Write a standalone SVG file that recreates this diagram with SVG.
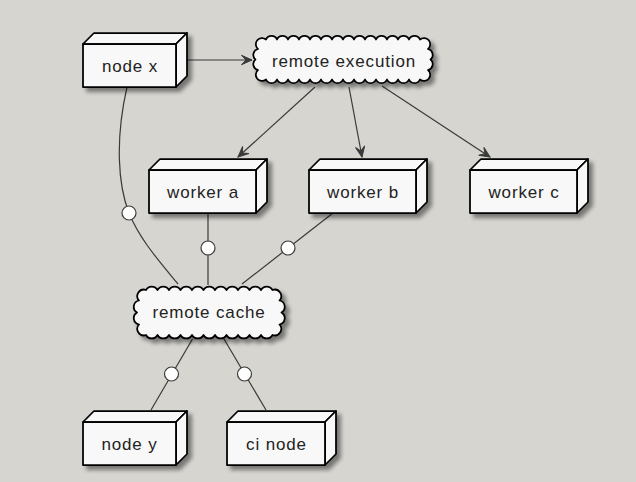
<svg xmlns="http://www.w3.org/2000/svg" width="636" height="482" viewBox="0 0 636 482">
<style>
.face{fill:#F8F8F8;stroke:#000;stroke-width:1.75;stroke-linejoin:round}
.lbl{font-family:"Liberation Sans",Arial,sans-serif;font-size:17px;letter-spacing:0.85px;fill:#222;text-anchor:middle}
.edge{fill:none;stroke:#3a3a3a;stroke-width:1.2}
.port{fill:#fff;stroke:#3a3a3a;stroke-width:1.2}
</style>
<defs>
<filter id="shadow" x="-10%" y="-20%" width="130%" height="150%">
<feGaussianBlur in="SourceAlpha" stdDeviation="2"/>
<feOffset dx="4" dy="4"/>
<feComponentTransfer><feFuncA type="linear" slope="0.45"/></feComponentTransfer>
<feMerge><feMergeNode/><feMergeNode in="SourceGraphic"/></feMerge>
</filter>
<marker id="arrow" markerUnits="userSpaceOnUse" viewBox="-12 -6 13 12" markerWidth="13" markerHeight="12" refX="0" refY="0" orient="auto">
<path d="M0,0 L-10.5,-4.7 L-6,0 L-10.5,4.7 Z" fill="#3a3a3a" stroke="#3a3a3a" stroke-width="1"/>
</marker>
</defs>
<rect width="636" height="482" fill="#D6D5D0"/>

<g id="connectors">
<path class="edge" d="M176,60 L252,60" marker-end="url(#arrow)"/>
<path class="edge" d="M315,87 L238,157" marker-end="url(#arrow)"/>
<path class="edge" d="M349,87 L362,157" marker-end="url(#arrow)"/>
<path class="edge" d="M382,86 L490,157" marker-end="url(#arrow)"/>
<path class="edge" d="M127,87 C115,140 118,185 129,213 C140,240 160,262 178,284"/>
<path class="edge" d="M208,213 L208,285"/>
<path class="edge" d="M333,213 L242,284"/>
<path class="edge" d="M192.5,339 L151,410"/>
<path class="edge" d="M224,339 L266,410"/>
<circle class="port" cx="129" cy="213" r="7"/>
<circle class="port" cx="208" cy="248" r="7"/>
<circle class="port" cx="288" cy="248" r="7"/>
<circle class="port" cx="171.5" cy="374" r="7"/>
<circle class="port" cx="244.5" cy="374" r="7"/>
</g>

<g id="node-x">
<g filter="url(#shadow)">
<path class="face" d="M83,44 L94,33 L187,33 L176,44 Z"/>
<path class="face" d="M176,44 L187,33 L187,76 L176,87 Z"/>
<rect class="face" x="83" y="44" width="93" height="43"/>
</g>
<text class="lbl" x="130" y="72">node x</text>
</g>

<g id="remote-execution">
<path class="face" filter="url(#shadow)" d="M266,39.5 A6,6 0 0 1 277,39.5 A6,6 0 0 1 288,39.5 A6,6 0 0 1 299,39.5 A6,6 0 0 1 310,39.5 A6,6 0 0 1 321,39.5 A6,6 0 0 1 332,39.5 A6,6 0 0 1 343,39.5 A6,6 0 0 1 354,39.5 A6,6 0 0 1 365,39.5 A6,6 0 0 1 376,39.5 A6,6 0 0 1 387,39.5 A6,6 0 0 1 398,39.5 A6,6 0 0 1 409,39.5 A6,6 0 0 1 420,39.5 A6,6 0 0 1 428,49 A6,6 0 0 1 430.5,59.5 A6,6 0 0 1 428,70 A6,6 0 0 1 420,79.5 A6,6 0 0 1 409,79.5 A6,6 0 0 1 398,79.5 A6,6 0 0 1 387,79.5 A6,6 0 0 1 376,79.5 A6,6 0 0 1 365,79.5 A6,6 0 0 1 354,79.5 A6,6 0 0 1 343,79.5 A6,6 0 0 1 332,79.5 A6,6 0 0 1 321,79.5 A6,6 0 0 1 310,79.5 A6,6 0 0 1 299,79.5 A6,6 0 0 1 288,79.5 A6,6 0 0 1 277,79.5 A6,6 0 0 1 266,79.5 A6,6 0 0 1 258,70 A6,6 0 0 1 255.5,59.5 A6,6 0 0 1 258,49 A6,6 0 0 1 266,39.5 Z"/>
<text class="lbl" x="344" y="67">remote execution</text>
</g>

<g id="worker-a">
<g filter="url(#shadow)">
<path class="face" d="M149,170 L160,159 L267,159 L256,170 Z"/>
<path class="face" d="M256,170 L267,159 L267,202 L256,213 Z"/>
<rect class="face" x="149" y="170" width="107" height="43"/>
</g>
<text class="lbl" x="203" y="198">worker a</text>
</g>

<g id="worker-b">
<g filter="url(#shadow)">
<path class="face" d="M309,170 L320,159 L427,159 L416,170 Z"/>
<path class="face" d="M416,170 L427,159 L427,202 L416,213 Z"/>
<rect class="face" x="309" y="170" width="107" height="43"/>
</g>
<text class="lbl" x="363" y="198">worker b</text>
</g>

<g id="worker-c">
<g filter="url(#shadow)">
<path class="face" d="M470,170 L481,159 L588,159 L577,170 Z"/>
<path class="face" d="M577,170 L588,159 L588,202 L577,213 Z"/>
<rect class="face" x="470" y="170" width="107" height="43"/>
</g>
<text class="lbl" x="524" y="198">worker c</text>
</g>

<g id="remote-cache">
<path class="face" filter="url(#shadow)" d="M146,290 A6.5,6.5 0 0 1 157.5,290 A6.5,6.5 0 0 1 169,290 A6.5,6.5 0 0 1 180.5,290 A6.5,6.5 0 0 1 192,290 A6.5,6.5 0 0 1 203.5,290 A6.5,6.5 0 0 1 215,290 A6.5,6.5 0 0 1 226.5,290 A6.5,6.5 0 0 1 238,290 A6.5,6.5 0 0 1 249.5,290 A6.5,6.5 0 0 1 261,290 A6.5,6.5 0 0 1 272.5,290 A6.5,6.5 0 0 1 279.5,300.5 A6.5,6.5 0 0 1 281.5,312.5 A6.5,6.5 0 0 1 279.5,324.5 A6.5,6.5 0 0 1 272.5,335 A6.5,6.5 0 0 1 261,335 A6.5,6.5 0 0 1 249.5,335 A6.5,6.5 0 0 1 238,335 A6.5,6.5 0 0 1 226.5,335 A6.5,6.5 0 0 1 215,335 A6.5,6.5 0 0 1 203.5,335 A6.5,6.5 0 0 1 192,335 A6.5,6.5 0 0 1 180.5,335 A6.5,6.5 0 0 1 169,335 A6.5,6.5 0 0 1 157.5,335 A6.5,6.5 0 0 1 146,335 A6.5,6.5 0 0 1 139,324.5 A6.5,6.5 0 0 1 137,312.5 A6.5,6.5 0 0 1 139,300.5 A6.5,6.5 0 0 1 146,290 Z"/>
<text class="lbl" x="209" y="318">remote cache</text>
</g>

<g id="node-y">
<g filter="url(#shadow)">
<path class="face" d="M83,422 L94,411 L187,411 L176,422 Z"/>
<path class="face" d="M176,422 L187,411 L187,454 L176,465 Z"/>
<rect class="face" x="83" y="422" width="93" height="43"/>
</g>
<text class="lbl" x="129.5" y="449.5">node y</text>
</g>

<g id="ci-node">
<g filter="url(#shadow)">
<path class="face" d="M227,422 L238,411 L336,411 L325,422 Z"/>
<path class="face" d="M325,422 L336,411 L336,454 L325,465 Z"/>
<rect class="face" x="227" y="422" width="98" height="43"/>
</g>
<text class="lbl" x="276.5" y="449.5">ci node</text>
</g>
</svg>
